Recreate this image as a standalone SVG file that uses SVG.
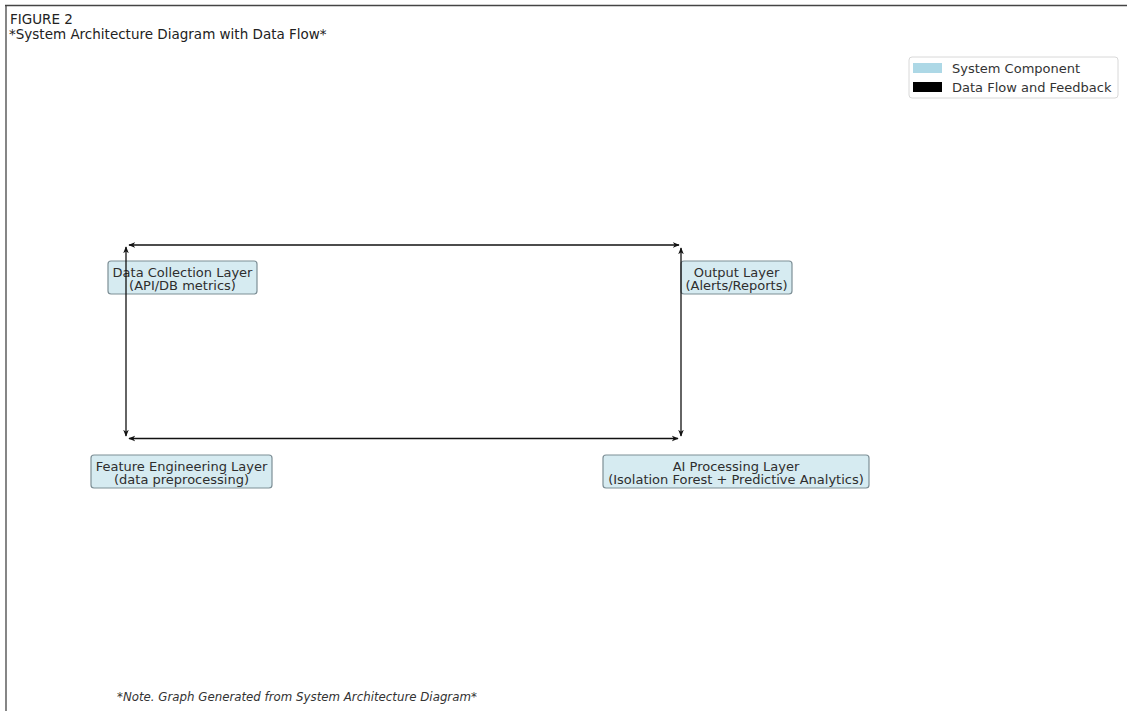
<svg xmlns="http://www.w3.org/2000/svg" width="1127" height="711" viewBox="0 0 1127 711">
<style>
text{font-family:"DejaVu Sans","Liberation Sans",sans-serif;}
.title{font-size:13.5px;fill:#222;}
.lbl{font-size:13px;fill:#2e2e2e;text-anchor:middle;}
.box{fill:#d6ebf1;stroke:#7d8f96;stroke-width:1.2;}
.leg{font-size:13px;fill:#333;}
.note{font-size:11.8px;fill:#333;font-style:italic;}
.conn{stroke:#111;stroke-width:1.3;fill:none;marker-start:url(#ah);marker-end:url(#ah);}
</style>
<defs>
<marker id="ah" viewBox="0 0 10 10" refX="9" refY="5" markerWidth="7" markerHeight="7" markerUnits="userSpaceOnUse" orient="auto-start-reverse">
<path d="M0,1 L10,5 L0,9 L3,5 Z" fill="#111"/>
</marker>
</defs>
<rect width="1127" height="711" fill="#fff"/>
<g id="frame">
<line x1="5" y1="5.5" x2="1127" y2="5.5" stroke="#444" stroke-width="1.3"/>
<line x1="6" y1="5" x2="6" y2="711" stroke="#444" stroke-width="1.3"/>
</g>
<g id="titles">
<text class="title" x="10" y="23.5">FIGURE 2</text>
<text class="title" x="9" y="38.5">*System Architecture Diagram with Data Flow*</text>
</g>
<g id="legend">
<rect x="909" y="57" width="209" height="41" rx="3" fill="#fff" stroke="#d8d8d8" stroke-width="1"/>
<rect x="913" y="63" width="29" height="10" fill="#add8e6"/>
<text class="leg" x="952" y="73">System Component</text>
<rect x="913" y="82" width="29" height="10" fill="#000"/>
<text class="leg" x="952" y="92">Data Flow and Feedback</text>
</g>
<g id="node-data-collection">
<rect class="box" x="108" y="261" width="149" height="33" rx="3"/>
<text class="lbl" x="182.5" y="276.5">Data Collection Layer</text>
<text class="lbl" x="182.5" y="290">(API/DB metrics)</text>
</g>
<g id="node-output">
<rect class="box" x="681" y="261" width="111" height="33" rx="3"/>
<text class="lbl" x="736.5" y="276.5">Output Layer</text>
<text class="lbl" x="736.5" y="290">(Alerts/Reports)</text>
</g>
<g id="node-feature-engineering">
<rect class="box" x="91" y="455" width="181" height="33" rx="3"/>
<text class="lbl" x="181.5" y="470.5">Feature Engineering Layer</text>
<text class="lbl" x="181.5" y="484">(data preprocessing)</text>
</g>
<g id="node-ai-processing">
<rect class="box" x="603" y="455" width="266" height="33" rx="3"/>
<text class="lbl" x="736" y="470.5">AI Processing Layer</text>
<text class="lbl" x="736" y="484">(Isolation Forest + Predictive Analytics)</text>
</g>
<g id="connectors">
<path class="conn" d="M129,245 L679,245"/>
<path class="conn" d="M126,247 L126,436"/>
<path class="conn" d="M681,248 L681,436"/>
<path class="conn" d="M129,438.5 L678,438.5"/>
</g>
<g id="note">
<text class="note" x="117" y="701">*Note. Graph Generated from System Architecture Diagram*</text>
</g>
</svg>
